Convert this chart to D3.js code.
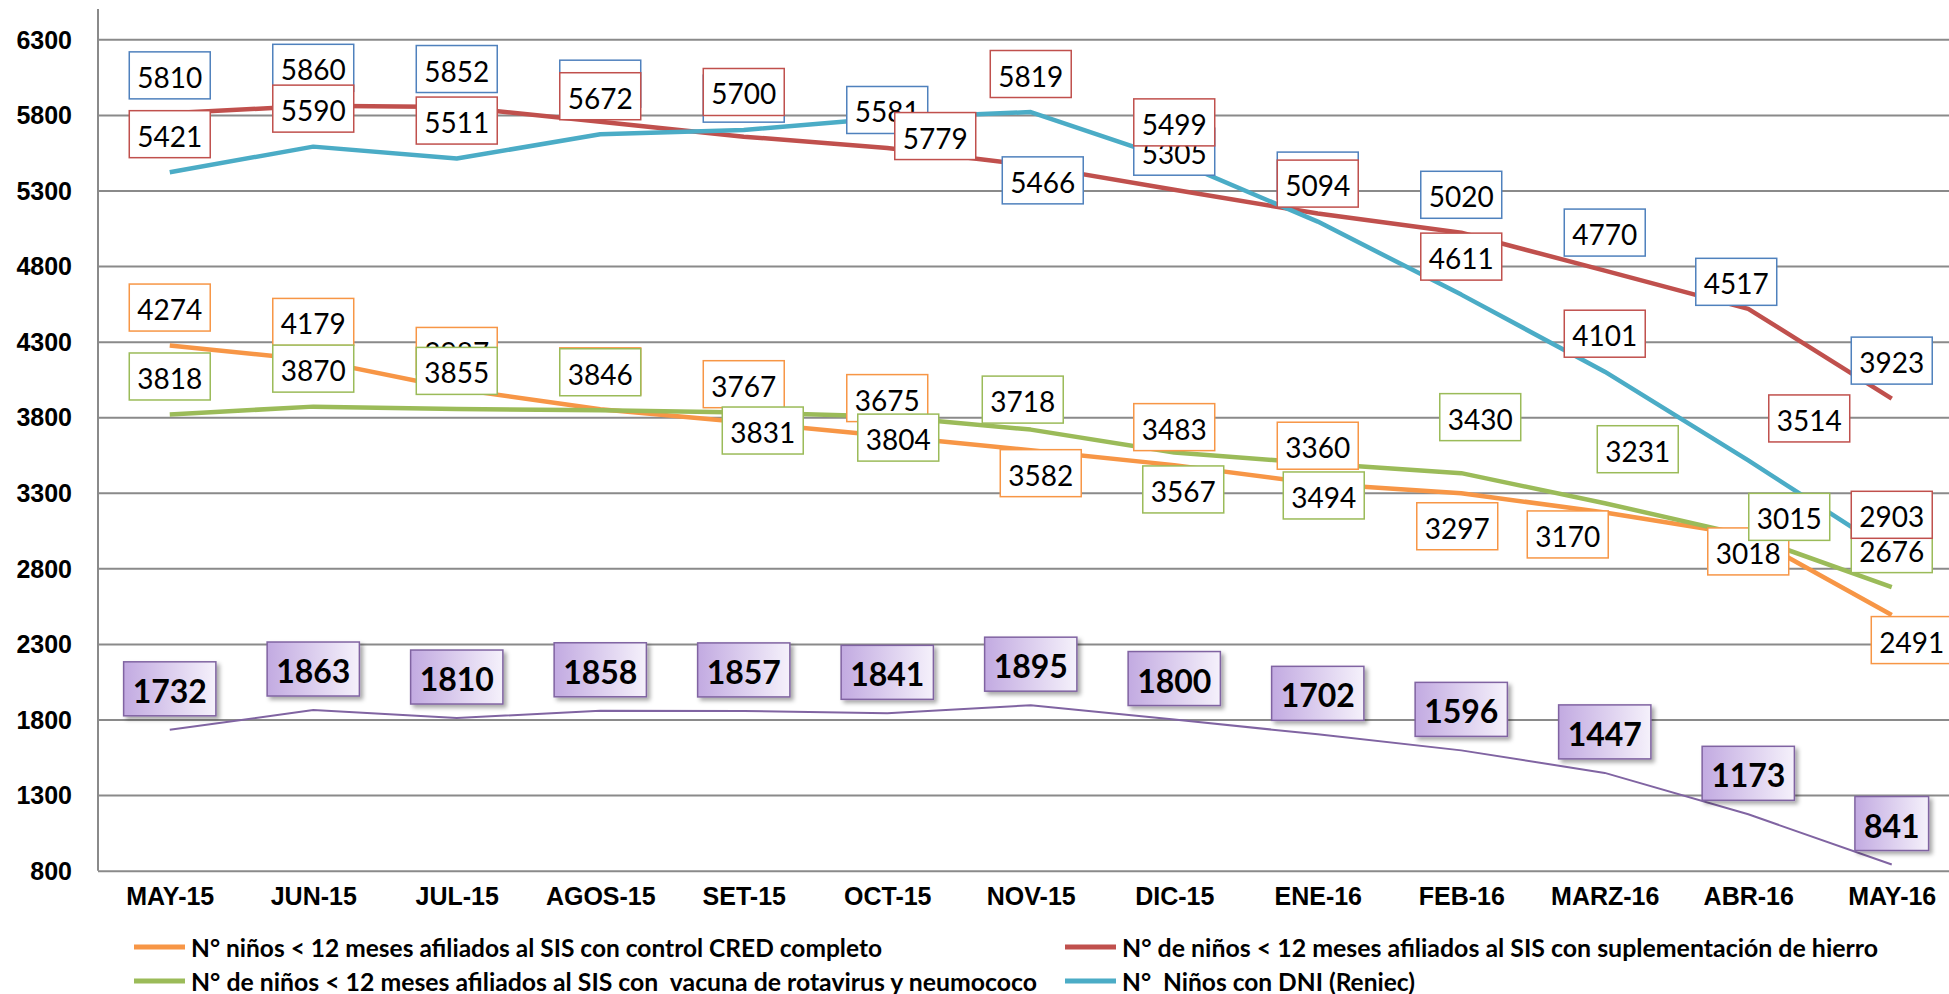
<!DOCTYPE html>
<html lang="es">
<head>
<meta charset="UTF-8">
<title>Niños menores de 12 meses afiliados al SIS</title>
<script src="https://d3js.org/d3.v7.min.js"></script>
<style>
    body { margin: 0; background: #fff; }
    svg { display: block; font-family: Lato, "Open Sans", sans-serif; }
    .tick text { font-weight: bold; fill: #000; }
    .lbl { fill: #000; }
</style>
</head>
<body>
<svg width="1949" height="994"></svg>
<script>
const months = ["MAY-15", "JUN-15", "JUL-15", "AGOS-15", "SET-15", "OCT-15", "NOV-15",
                "DIC-15", "ENE-16", "FEB-16", "MARZ-16", "ABR-16", "MAY-16"];
const yTicks = [800, 1300, 1800, 2300, 2800, 3300, 3800, 4300, 4800, 5300, 5800, 6300];

// series values
const credValues   = [4274, 4179, 3987, 3852, 3767, 3675, 3582, 3483, 3360, 3297, 3170, 3018, 2491];
const hierroValues = [5810, 5860, 5852, 5755, 5656, 5581, 5466, 5305, 5147, 5020, 4770, 4517, 3923];
const vacunaValues = [3818, 3870, 3855, 3846, 3831, 3804, 3718, 3567, 3494, 3430, 3231, 3015, 2676];
const dniValues    = [5421, 5590, 5511, 5672, 5700, 5779, 5819, 5499, 5094, 4611, 4101, 3514, 2903];
const totalValues  = [1732, 1863, 1810, 1858, 1857, 1841, 1895, 1800, 1702, 1596, 1447, 1173, 841];

const credName   = "N° niños < 12 meses afiliados al SIS con control CRED completo";
const hierroName = "N° de niños < 12 meses afiliados al SIS con suplementación de hierro";
const vacunaName = "N° de niños < 12 meses afiliados al SIS con  vacuna de rotavirus y neumococo";
const dniName    = "N°  Niños con DNI (Reniec)";

const width = 1949, height = 994;
const svg = d3.select("svg");
svg.append("rect").attr("width", width).attr("height", height).attr("fill", "#fff");

const x = d3.scalePoint().domain(months).range([98, 1963.5]).padding(0.5);
const y = d3.scaleLinear().domain([800, 6300]).range([870.7, 39.3]);

// label nudges (dx, dy from default spot above the point), hand-placed like the original
const nudgeCred   = {6: [10, 61], 9: [-4, 71], 10: [-37, 60], 11: [0, 54], 12: [20, 63]};
const nudgeVacuna = {4: [19, 56], 5: [11, 59], 6: [-8, 8], 7: [9, 75], 8: [6, 70],
                     9: [19, -18], 10: [33, -16], 11: [41, 19]};
const nudgeDni    = {5: [48, 56], 11: [61, -4]};
const nudgeHierro = {6: [12, 53], 11: [-12, 11]};

const series = [
    {values: credValues,   line: "#f79646", label: "#f79646", nudge: nudgeCred},
    {values: hierroValues, line: "#c0504d", label: "#4f81bd", nudge: nudgeHierro},
    {values: vacunaValues, line: "#9bbb59", label: "#9bbb59", nudge: nudgeVacuna},
    {values: dniValues,    line: "#4bacc6", label: "#c0504d", nudge: nudgeDni}
];

// defs: gradient + shadow for the purple labels
const defs = svg.append("defs");
const grad = defs.append("linearGradient").attr("id", "purpleGrad");
grad.append("stop").attr("offset", "0%").attr("stop-color", "#c2aae1");
grad.append("stop").attr("offset", "100%").attr("stop-color", "#f5f1fb");
const shadow = defs.append("filter").attr("id", "shadow")
    .attr("x", "-20%").attr("y", "-20%").attr("width", "150%").attr("height", "150%");
shadow.append("feDropShadow").attr("dx", 3).attr("dy", 3).attr("stdDeviation", 2)
    .attr("flood-color", "#000").attr("flood-opacity", 0.35);

// gridlines + y labels
const yAxis = svg.append("g")
    .attr("transform", "translate(98,0)")
    .call(d3.axisLeft(y).tickValues(yTicks).tickSize(-(width - 98)).tickPadding(26).tickFormat(d3.format("d")));
yAxis.select(".domain").remove();
yAxis.selectAll(".tick line").attr("stroke", "#8a8a8a").attr("stroke-width", 2);
yAxis.selectAll(".tick text").attr("font-size", 25).attr("dy", "0.35em");

svg.append("line")
    .attr("x1", 98).attr("x2", 98).attr("y1", y(800)).attr("y2", y(6500))
    .attr("stroke", "#8a8a8a").attr("stroke-width", 2);

// x labels
const xAxis = svg.append("g")
    .attr("transform", `translate(0,${y(800)})`)
    .call(d3.axisBottom(x).tickSize(0).tickPadding(26));
xAxis.select(".domain").remove();
xAxis.selectAll(".tick text").attr("font-size", 25).attr("dy", "0.35em");

// lines
const lineGen = vals => d3.line().x((d, i) => x(months[i])).y(d => y(d))(vals);
series.forEach(s => {
    svg.append("path")
        .attr("d", lineGen(s.values))
        .attr("fill", "none")
        .attr("stroke", s.line)
        .attr("stroke-width", 4.5)
        .attr("stroke-linejoin", "round");
});
svg.append("path")
    .attr("d", lineGen(totalValues))
    .attr("fill", "none")
    .attr("stroke", "#8064a2")
    .attr("stroke-width", 2);

// data labels
function addLabel(cx, cy, text, opts) {
    const g = svg.append("g");
    const rect = g.append("rect");
    const t = g.append("text")
        .attr("class", "lbl")
        .attr("x", cx).attr("y", cy + 1.5)
        .attr("text-anchor", "middle")
        .attr("dominant-baseline", "central")
        .attr("font-size", opts.size)
        .attr("font-weight", opts.bold ? "bold" : "normal")
        .text(text);
    const w = t.node().getComputedTextLength() + opts.pad * 2;
    rect.attr("x", cx - w / 2).attr("y", cy - opts.h / 2)
        .attr("width", w).attr("height", opts.h)
        .attr("fill", opts.fill)
        .attr("stroke", opts.stroke)
        .attr("stroke-width", opts.sw);
    if (opts.filter) rect.attr("filter", opts.filter);
}

series.forEach(s => {
    s.values.forEach((v, i) => {
        const n = s.nudge[i] || [0, 0];
        addLabel(x(months[i]) + n[0], y(v) - 38 + n[1], v,
            {size: 28, bold: false, pad: 8, h: 47, fill: "#fff", stroke: s.label, sw: 1.5});
    });
});
totalValues.forEach((v, i) => {
    addLabel(x(months[i]), y(v) - 41, v,
        {size: 32, bold: true, pad: 9, h: 54, fill: "url(#purpleGrad)", stroke: "#8064a2", sw: 1.5,
         filter: "url(#shadow)"});
});

// legend
const legend = [
    {name: credName,   color: "#f79646", x: 134,  row: 0, len: 691},
    {name: hierroName, color: "#c0504d", x: 1065, row: 0, len: 756},
    {name: vacunaName, color: "#9bbb59", x: 134,  row: 1, len: 846},
    {name: dniName,    color: "#4bacc6", x: 1065, row: 1, len: 293}
];
legend.forEach(d => {
    const ly = 947 + d.row * 34;
    svg.append("line")
        .attr("x1", d.x).attr("x2", d.x + 51).attr("y1", ly).attr("y2", ly)
        .attr("stroke", d.color).attr("stroke-width", 5);
    svg.append("text")
        .attr("x", d.x + 57).attr("y", ly)
        .attr("dominant-baseline", "central")
        .attr("font-size", 24).attr("font-weight", "bold")
        .attr("textLength", d.len).attr("lengthAdjust", "spacingAndGlyphs")
        .style("white-space", "pre")
        .text(d.name);
});
</script>
</body>
</html>
